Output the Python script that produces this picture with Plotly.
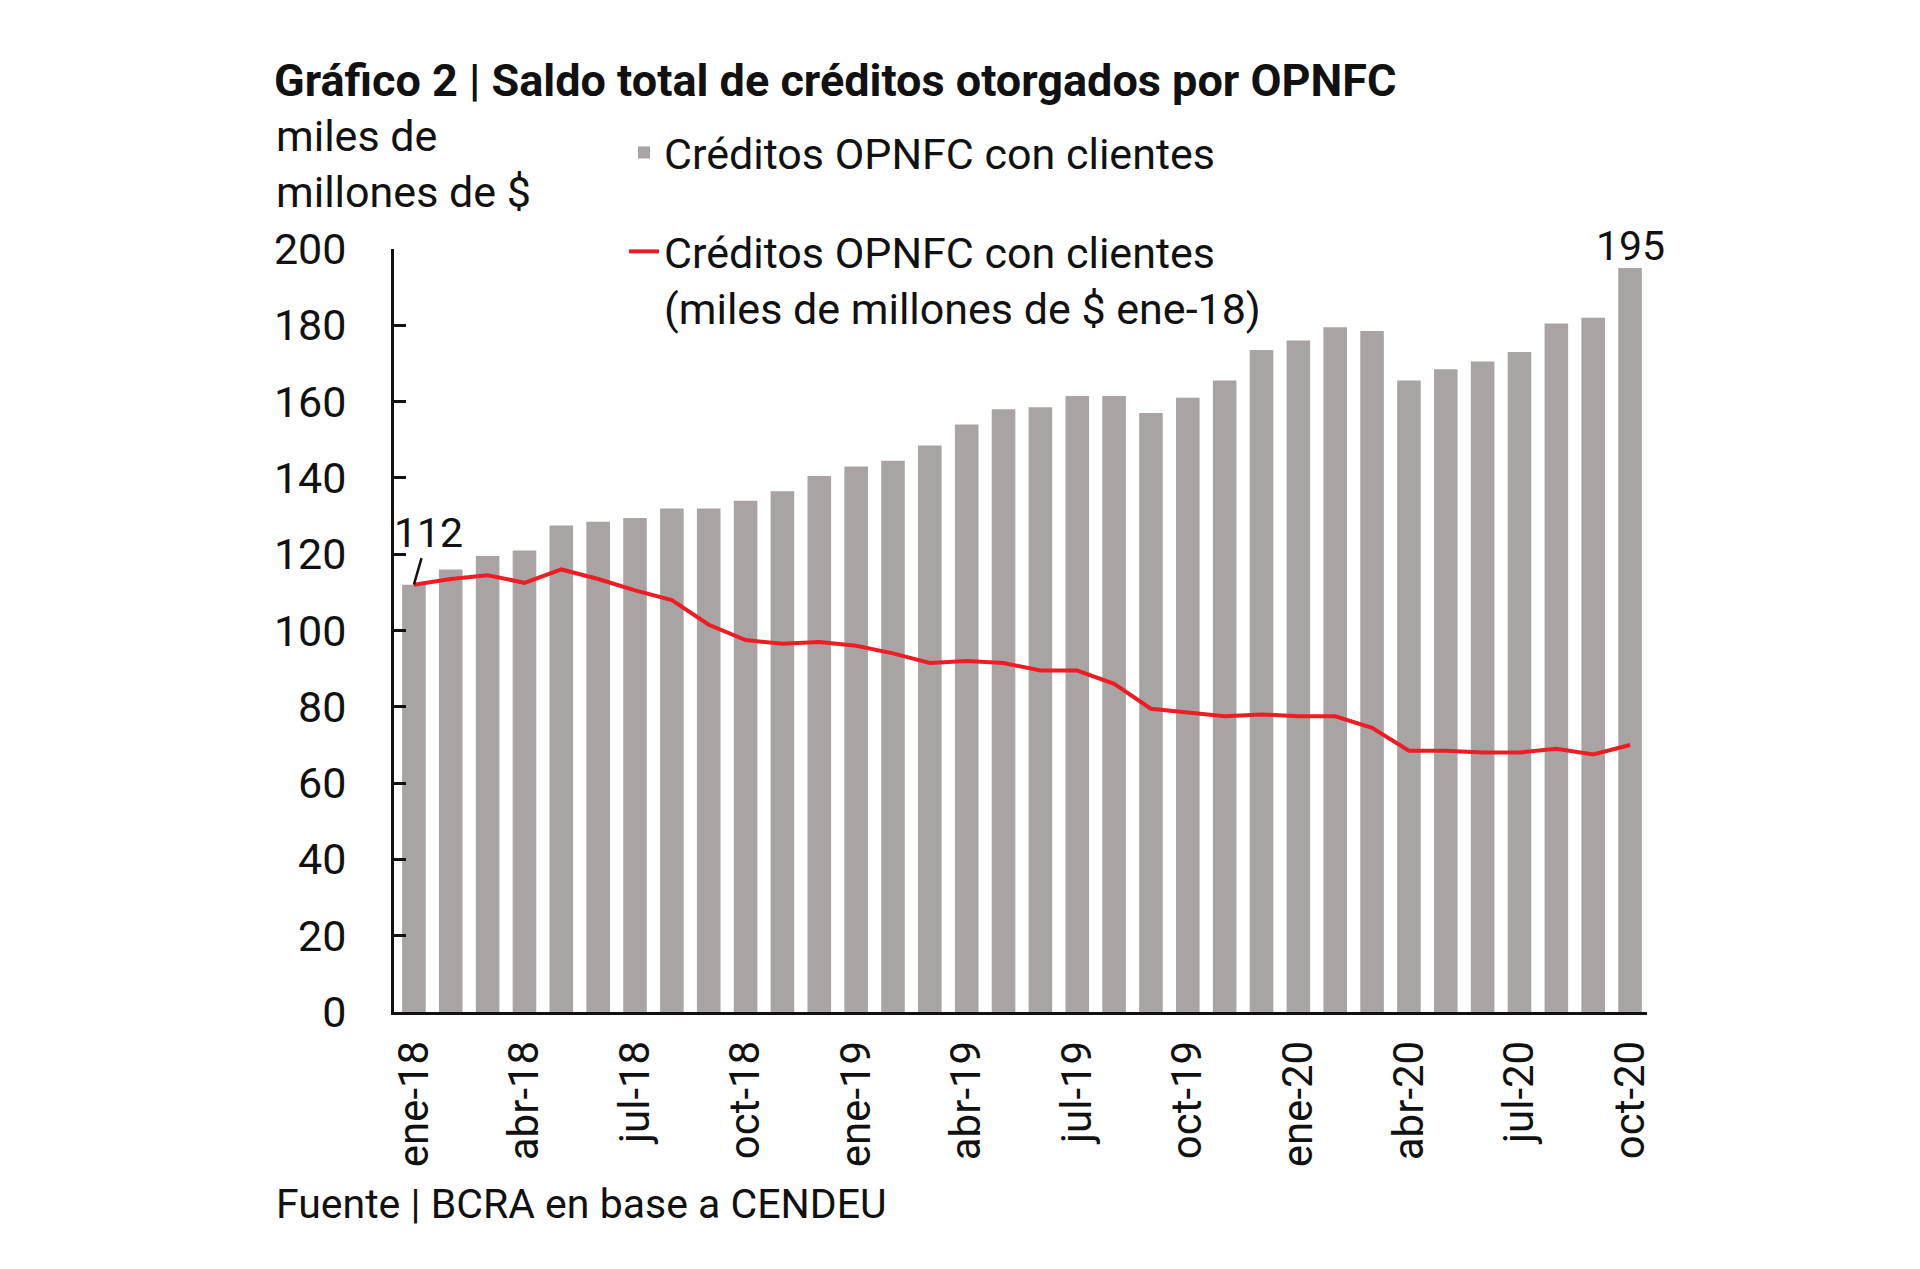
import plotly.graph_objects as go

months = ["ene-18","feb-18","mar-18","abr-18","may-18","jun-18","jul-18","ago-18","sep-18","oct-18","nov-18","dic-18",
          "ene-19","feb-19","mar-19","abr-19","may-19","jun-19","jul-19","ago-19","sep-19","oct-19","nov-19","dic-19",
          "ene-20","feb-20","mar-20","abr-20","may-20","jun-20","jul-20","ago-20","sep-20","oct-20"]
nominal = [112, 116, 119.5, 121, 127.5, 128.5, 129.5, 132, 132, 134, 136.5, 140.5,
           143, 144.5, 148.5, 154, 158, 158.5, 161.5, 161.5, 157, 161, 165.5, 173.5,
           176, 179.5, 178.5, 165.5, 168.5, 170.5, 173, 180.5, 182, 195]
real = [112, 113.5, 114.5, 112.5, 116, 113.5, 110.5, 108, 101.5, 97.5, 96.5, 97,
        96, 94, 91.5, 92, 91.5, 89.5, 89.5, 86, 79.5, 78.5, 77.5, 78,
        77.5, 77.5, 74.5, 68.5, 68.5, 68, 68, 69, 67.5, 70]
tick_months = months[::3]
name_bar = "Créditos OPNFC con clientes"
name_line = "Créditos OPNFC con clientes<br>(miles de millones de $ ene-18)"

FONT = "Roboto"
INK = "#111111"
L, R, T, B = 386, 1639, 241, 1004
PW, PH = R - L, B - T

def px_x(v):
    return (v - L) / PW

def px_y(v):
    return (B - v) / PH

fig = go.Figure()
fig.add_trace(go.Bar(x=months, y=nominal, name=name_bar, marker_color="#A8A4A4",
                     marker_line_width=0, legendgroup="a"))
fig.add_trace(go.Scatter(x=months, y=real, name=name_line, mode="lines",
                         line=dict(color="#EE1C25", width=4), legendgroup="b"))

fig.update_layout(
    width=1920, height=1269,
    paper_bgcolor="white", plot_bgcolor="white",
    margin=dict(l=L, r=1920 - R, t=T, b=1269 - B),
    bargap=0.36,
    font=dict(family=FONT, size=43, color=INK),
    title=dict(text="<b>Gráfico 2 | Saldo total de créditos otorgados por OPNFC</b>",
               x=266/1920, xanchor="left", xref="container",
               y=1-72/1269, yanchor="middle", yref="container",
               font=dict(family=FONT, size=45, color=INK)),
    showlegend=True,
    legend=dict(x=px_x(616), xanchor="left", y=px_y(110), yanchor="top",
                bgcolor="rgba(0,0,0,0)", tracegroupgap=40, valign="top",
                font=dict(family=FONT, size=43, color=INK), itemwidth=30),
    xaxis=dict(type="category", range=[-0.54, 33.46], tickmode="array",
               tickvals=tick_months, ticktext=tick_months, tickangle=-90,
               showline=True, linecolor=INK, linewidth=3, ticks="",
               showgrid=False, ticklabelstandoff=9,
               tickfont=dict(family=FONT, size=42, color=INK)),
    yaxis=dict(range=[0, 200], tickvals=list(range(0, 201, 20)), showline=True,
               linecolor=INK, linewidth=3, ticks="inside", ticklen=12,
               tickwidth=3, tickcolor=INK, showgrid=False, zeroline=False,
               ticklabelstandoff=36,
               tickfont=dict(family=FONT, size=43, color=INK)),
)

fig.add_annotation(text="miles de<br>millones de $", xref="paper", yref="paper",
                   x=px_x(266), y=px_y(156), xanchor="left", yanchor="middle",
                   align="left", showarrow=False, font=dict(family=FONT, size=43, color=INK))
fig.add_annotation(text="Fuente | BCRA en base a CENDEU", xref="paper", yref="paper",
                   x=px_x(266), y=px_y(1196), xanchor="left", yanchor="middle",
                   showarrow=False, font=dict(family=FONT, size=41, color=INK))
fig.add_annotation(text=str(nominal[0]), x=months[0], y=nominal[0], ax=15, ay=-52,
                   showarrow=True, arrowhead=0, arrowwidth=2.5, arrowcolor=INK,
                   font=dict(family=FONT, size=41, color=INK))
fig.add_annotation(text=str(nominal[-1]), x=months[-1], y=nominal[-1], yanchor="bottom",
                   showarrow=False, yshift=-4, font=dict(family=FONT, size=41, color=INK))

fig.write_html("out.html")
